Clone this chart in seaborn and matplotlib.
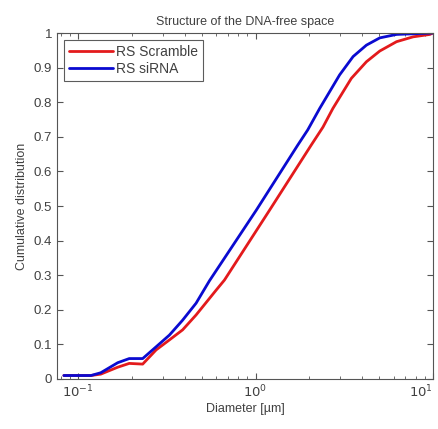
import numpy as np
import pandas as pd
import matplotlib
matplotlib.use("Agg")
import matplotlib.pyplot as plt
import seaborn as sns
from matplotlib.ticker import LogLocator, NullFormatter, FixedLocator

# Data
scramble_d = [0.083, 0.118, 0.134, 0.167, 0.194, 0.231, 0.275, 0.327, 0.388, 0.462,
              0.550, 0.600, 0.668, 1.20, 2.06, 2.40, 2.73, 3.47, 4.22, 5.02, 6.24, 7.74, 9.62, 10.0]
scramble_v = [0.010, 0.010, 0.014, 0.034, 0.045, 0.043, 0.084, 0.113, 0.142, 0.185,
              0.233, 0.257, 0.286, 0.488, 0.676, 0.728, 0.782, 0.869, 0.917, 0.948, 0.975, 0.989, 0.996, 1.0]
sirna_d = [0.083, 0.118, 0.134, 0.167, 0.194, 0.231, 0.275, 0.327, 0.388, 0.462,
           0.550, 1.01, 1.73, 1.97, 2.30, 2.98, 3.55, 4.22, 5.02, 6.24, 10.0]
sirna_v = [0.010, 0.010, 0.018, 0.047, 0.059, 0.059, 0.093, 0.127, 0.170, 0.219,
           0.284, 0.488, 0.676, 0.720, 0.782, 0.879, 0.932, 0.965, 0.986, 0.996, 1.0]
series_names = ["RS Scramble", "RS siRNA"]
series_colors = ["#e31a1c", "#0a0ad0"]
yticks = [0, 0.1, 0.2, 0.3, 0.4, 0.5, 0.6, 0.7, 0.8, 0.9, 1]
ytick_labels = ["0", "0.1", "0.2", "0.3", "0.4", "0.5", "0.6", "0.7", "0.8", "0.9", "1"]

df = pd.concat([
    pd.DataFrame({"Diameter": scramble_d, "Value": scramble_v, "Series": series_names[0]}),
    pd.DataFrame({"Diameter": sirna_d, "Value": sirna_v, "Series": series_names[1]}),
], ignore_index=True)

sns.set_style("white")
plt.rcParams["font.family"] = ["Liberation Sans", "DejaVu Sans"]
text_color = "#404040"

fig = plt.figure(figsize=(4.39, 4.29), dpi=100)
ax = fig.add_axes([0.130, 0.1166, 0.856, 0.8064])

sns.lineplot(data=df, x="Diameter", y="Value", hue="Series", palette=series_colors,
             hue_order=series_names, linewidth=2.0, ax=ax, sort=False, estimator=None)

ax.set_xscale("log")
ax.set_xlim(0.076, 10)
ax.set_ylim(0, 1)
ax.yaxis.set_major_locator(FixedLocator(yticks))
ax.set_yticklabels(ytick_labels)
ax.xaxis.set_major_locator(FixedLocator([0.1, 1, 10]))
ax.set_xticklabels([r"$10^{-1}$", r"$10^{0}$", r"$10^{1}$"])
ax.xaxis.set_minor_locator(LogLocator(base=10, subs=np.arange(2, 10)))
ax.xaxis.set_minor_formatter(NullFormatter())
ax.get_xticklabels()[-1].set_horizontalalignment("right")

for s in ax.spines.values():
    s.set_color("#555555")
    s.set_linewidth(0.8)
ax.tick_params(axis="both", which="both", direction="in", top=True, right=True,
               bottom=True, left=True, colors="#555555", labelcolor=text_color, labelsize=9.5)
ax.tick_params(which="major", length=4)
ax.tick_params(which="minor", length=2.5)

ax.set_title("Structure of the DNA-free space", fontsize=9, color=text_color, pad=6)
ax.set_xlabel("Diameter [µm]", fontsize=9, color=text_color, labelpad=2)
ax.set_ylabel("Cumulative distribution", fontsize=9, color=text_color, labelpad=4)

leg = ax.legend(loc="upper left", fontsize=10, frameon=True, fancybox=False,
                handlelength=3.2, handletextpad=0.2, borderpad=0.35, labelspacing=0.25,
                borderaxespad=0.5)
leg.get_frame().set_edgecolor("#333333")
leg.get_frame().set_linewidth(0.8)
for t in leg.get_texts():
    t.set_color(text_color)

fig.savefig("out.png", dpi=100)
